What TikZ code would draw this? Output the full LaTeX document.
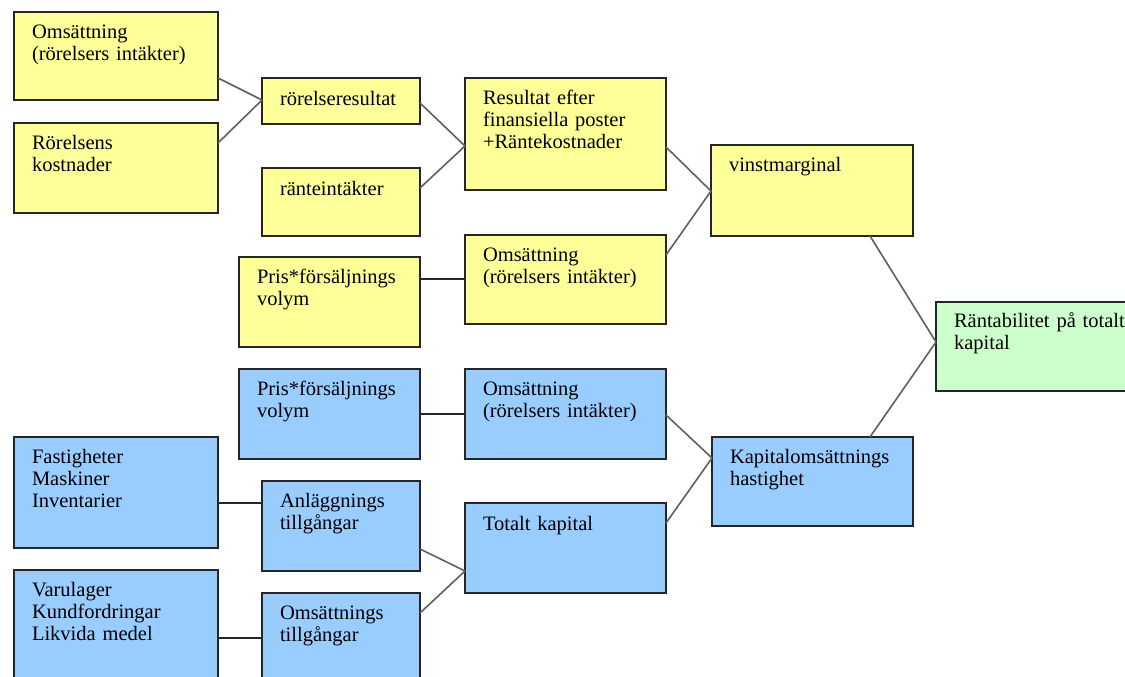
\documentclass[tikz,border=0pt]{standalone}
\usepackage{fontspec}
\setmainfont{Liberation Serif}
\usetikzlibrary{fit}
\definecolor{cellyellow}{HTML}{FFFF99}
\definecolor{cellblue}{HTML}{99CCFF}
\definecolor{cellgreen}{HTML}{CCFFCC}
\definecolor{edgedark}{HTML}{262626}
\definecolor{linkgray}{HTML}{606060}
\tikzset{
  cell/.style={draw=edgedark, line width=1.8pt, inner sep=0pt, outer sep=0pt, rectangle},
  yel/.style={cell, fill=cellyellow},
  blu/.style={cell, fill=cellblue},
  grn/.style={cell, fill=cellgreen},
  txt/.style={anchor=base west, inner sep=0pt, outer sep=0pt, text width=178pt, align=left,
              font=\fontsize{20.5}{22}\selectfont, text=black},
  link/.style={draw=linkgray, line width=1.6pt},
  flat/.style={draw=edgedark, line width=2pt},
}
\begin{document}
\begin{tikzpicture}[x={(1pt,0)}, y={(0,-1pt)}]
\clip (0,0) rectangle (1125,677);
\fill[white] (0,0) rectangle (1125,677);

% yellow branch: profit margin
\node[yel, fit={(14,12) (218,100)}] (b1) {};
\node[yel, fit={(14,123) (218,213)}] (b2) {};
\node[yel, fit={(262,78) (420,124)}] (b3) {};
\node[yel, fit={(262,168) (420,236)}] (b4) {};
\node[yel, fit={(465,78) (666,190)}] (b5) {};
\node[yel, fit={(711,145) (913,236)}] (b6) {};
\node[yel, fit={(239,257) (420,347)}] (b7) {};
\node[yel, fit={(465,235) (666,324)}] (b8) {};
% result
\node[grn, fit={(936,302) (1135,391)}] (b9) {};
% blue branch: capital turnover
\node[blu, fit={(239,369) (420,459)}] (b10) {};
\node[blu, fit={(465,369) (666,459)}] (b11) {};
\node[blu, fit={(14,437) (218,548)}] (b12) {};
\node[blu, fit={(262,481) (420,571)}] (b13) {};
\node[blu, fit={(465,503) (666,593)}] (b14) {};
\node[blu, fit={(712,437) (913,526)}] (b15) {};
\node[blu, fit={(14,570) (218,700)}] (b16) {};
\node[blu, fit={(262,593) (420,700)}] (b17) {};

% labels
\node[txt] (t1) at ([shift={(18,26.5)}]b1.north west) {Omsättning\\(rörelsers intäkter)};
\node[txt] (t2) at ([shift={(18,26.5)}]b2.north west) {Rörelsens\\kostnader};
\node[txt] (t3) at ([shift={(18,27)}]b3.north west) {rörelseresultat};
\node[txt] (t4) at ([shift={(18,27)}]b4.north west) {ränteintäkter};
\node[txt] (t5) at ([shift={(18,26.5)}]b5.north west) {Resultat efter\\finansiella poster\\+Räntekostnader};
\node[txt] (t6) at ([shift={(18,26.5)}]b6.north west) {vinstmarginal};
\node[txt] (t7) at ([shift={(18,26.5)}]b7.north west) {Pris*försäljnings\\volym};
\node[txt] (t8) at ([shift={(18,26.5)}]b8.north west) {Omsättning\\(rörelsers intäkter)};
\node[txt] (t9) at ([shift={(18,25.5)}]b9.north west) {Räntabilitet på totalt\\kapital};
\node[txt] (t10) at ([shift={(18,26.5)}]b10.north west) {Pris*försäljnings\\volym};
\node[txt] (t11) at ([shift={(18,26.5)}]b11.north west) {Omsättning\\(rörelsers intäkter)};
\node[txt] (t12) at ([shift={(18,26.5)}]b12.north west) {Fastigheter\\Maskiner\\Inventarier};
\node[txt] (t13) at ([shift={(18,26.5)}]b13.north west) {Anläggnings\\tillgångar};
\node[txt] (t14) at ([shift={(18,27)}]b14.north west) {Totalt kapital};
\node[txt] (t15) at ([shift={(18,26.5)}]b15.north west) {Kapitalomsättnings\\hastighet};
\node[txt] (t16) at ([shift={(18,26.5)}]b16.north west) {Varulager\\Kundfordringar\\Likvida medel};
\node[txt] (t17) at ([shift={(18,26.5)}]b17.north west) {Omsättnings\\tillgångar};

% slanted links
\draw[link] (b1.east |- 0,78)  -- (b3.west |- 0,100);
\draw[link] (b2.east |- 0,143) -- (b3.west |- 0,100);
\draw[link] (b3.east |- 0,103) -- (b5.west |- 0,146);
\draw[link] (b4.east |- 0,188) -- (b5.west |- 0,146);
\draw[link] (b5.east |- 0,147) -- (b6.west |- 0,191);
\draw[link] (b8.east |- 0,255) -- (b6.west |- 0,191);
\draw[link] (b6.south -| 870,0) -- (b9.west |- 0,342);
\draw[link] (b15.north -| 870,0) -- (b9.west |- 0,342);
\draw[link] (b11.east |- 0,415) -- (b15.west |- 0,458);
\draw[link] (b14.east |- 0,523) -- (b15.west |- 0,458);
\draw[link] (b13.east |- 0,549) -- (b14.west |- 0,571);
\draw[link] (b17.east |- 0,613) -- (b14.west |- 0,571);

% straight links
\draw[flat] (b7.east |- 0,279)  -- (b8.west |- 0,279);
\draw[flat] (b10.east |- 0,414) -- (b11.west |- 0,414);
\draw[flat] (b12.east |- 0,503) -- (b13.west |- 0,503);
\draw[flat] (b16.east |- 0,638) -- (b17.west |- 0,638);
\end{tikzpicture}
\end{document}
